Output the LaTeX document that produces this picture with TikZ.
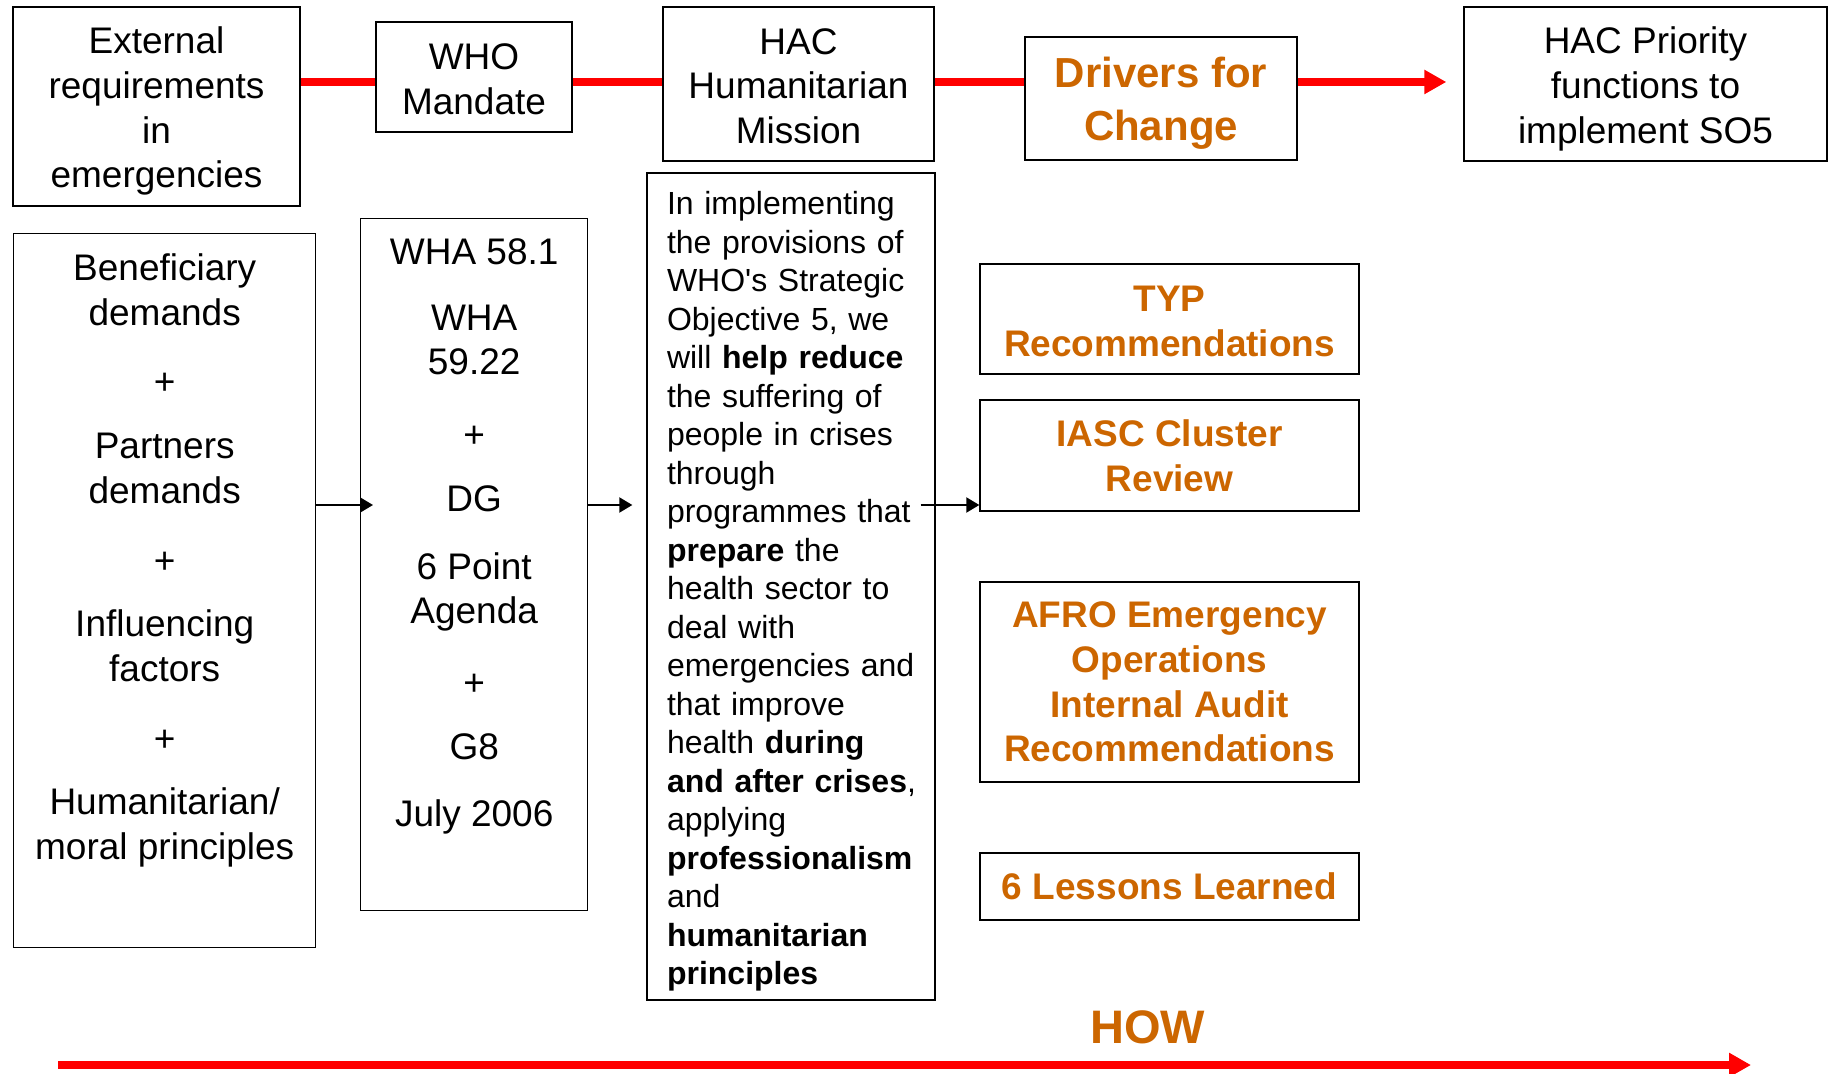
\documentclass[tikz,border=0pt]{standalone}
\usepackage{fontspec}
\setmainfont{Liberation Sans}
\usetikzlibrary{arrows.meta}
\definecolor{drvorange}{RGB}{204,102,0}

\begin{document}
\begin{tikzpicture}[x=0.5pt, y=-0.5pt,
  box/.style={draw, line width=0.7pt, align=center, inner sep=0pt},
  toptext/.style={font=\fontsize{18.5}{22.35}\selectfont},
  orangetext/.style={text=drvorange, font=\bfseries\fontsize{18.5}{22.3}\selectfont},
  redline/.style={draw=red, line width=4pt},
  redarrow/.style={redline, -{Triangle[length=11pt, width=11.5pt]}},
  flow/.style={line width=1pt, -{Triangle[length=6.5pt, width=7.5pt]}}]
  \useasboundingbox (0,0) rectangle (1829,1074);

  \node[box, toptext, minimum width=143.5pt, minimum height=99.5pt] (ext) at (156.5,106.5) {\rule{0pt}{18pt}External\\requirements\\in\\emergencies};
  \node[box, toptext, minimum width=98pt, minimum height=55pt] (who) at (474,77) {\rule{0pt}{15.5pt}WHO\\Mandate};
  \node[box, toptext, minimum width=135.5pt, minimum height=77pt] (hac) at (798.5,84) {\rule{0pt}{15pt}HAC\\Humanitarian\\Mission};
  \node[box, text=drvorange, font=\bfseries\fontsize{21}{26.25}\selectfont, minimum width=136pt, minimum height=61.5pt] (drv) at (1161,98.5) {\rule{0pt}{20pt}Drivers for\\Change};
  \node[box, toptext, minimum width=181.5pt, minimum height=77pt] (prio) at (1645.5,84) {\rule{0pt}{18.5pt}HAC Priority\\functions to\\implement SO5};

  \node[box, toptext, inner ysep=10pt, anchor=north west] (benef) at (13,233) {\parbox[c][337pt][t]{151pt}{\centering Beneficiary\\demands\\[12.5pt]+\\[9.5pt]Partners\\demands\\[12.5pt]+\\[9.5pt]Influencing\\factors\\[12.5pt]+\\[9.5pt]Humanitarian/\\moral principles}};
  \node[box, toptext, inner ysep=10pt, anchor=north west] (wha) at (360,218) {\parbox[c][326pt][t]{113.5pt}{\centering WHA 58.1\\[10.5pt]WHA\\59.22\\[14pt]+\\[9.5pt]DG\\[11.5pt]6 Point\\Agenda\\[13.5pt]+\\[9.5pt]G8\\[11.5pt]July 2006}};
  \node[box, font=\fontsize{16}{19.25}\selectfont, align=left, text width=124pt, minimum width=144pt, minimum height=413.5pt] (txt) at (791,586.5) {\rule{0pt}{16.4pt}In implementing\\the provisions of\\WHO\textquotesingle s Strategic\\Objective 5, we\\will \textbf{help reduce}\\the suffering of\\people in crises\\through\\programmes that\\\textbf{prepare} the\\health sector to\\deal with\\emergencies and\\that improve\\health \textbf{during}\\\mbox{\textbf{and after crises},}\\applying\\\textbf{professionalism}\\and\\\textbf{humanitarian}\\\textbf{principles}};

  \node[box, orangetext, minimum width=189.5pt, minimum height=55pt] (typ) at (1169.5,319) {\rule{0pt}{15pt}TYP\\Recommendations};
  \node[box, orangetext, minimum width=189.5pt, minimum height=55.5pt] (iasc) at (1169.5,455.5) {IASC Cluster\\Review};
  \node[box, orangetext, minimum width=189.5pt, minimum height=100pt] (afro) at (1169.5,682) {AFRO Emergency\\Operations\\Internal Audit\\Recommendations};
  \node[box, orangetext, minimum width=189.5pt, minimum height=33.5pt] (lessons) at (1169.5,886.5) {6 Lessons Learned};

  \node[text=drvorange, font=\bfseries\fontsize{23.5}{28}\selectfont, inner sep=0pt] (how) at (1147.5,1027) {HOW};

  \coordinate (topline) at (0,82);
  \coordinate (mid) at (0,505);
  \coordinate (howstart) at (58,1065);
  \coordinate (howend) at (1751,1065);

  \draw[redline] (ext.east |- topline) -- (who.west |- topline);
  \draw[redline] (who.east |- topline) -- (hac.west |- topline);
  \draw[redline] (hac.east |- topline) -- (drv.west |- topline);
  \draw[redarrow, shorten >=8.5pt] (drv.east |- topline) -- (prio.west |- topline);

  \draw[flow, shorten >=-6.5pt] (benef.east |- mid) -- (wha.west |- mid);
  \draw[flow, shorten >=7pt] (wha.east |- mid) -- (txt.west |- mid);
  \draw[flow, shorten <=-7.5pt] (txt.east |- mid) -- (iasc.west |- mid);

  \draw[redarrow] (howstart) -- (howend);
\end{tikzpicture}
\end{document}
